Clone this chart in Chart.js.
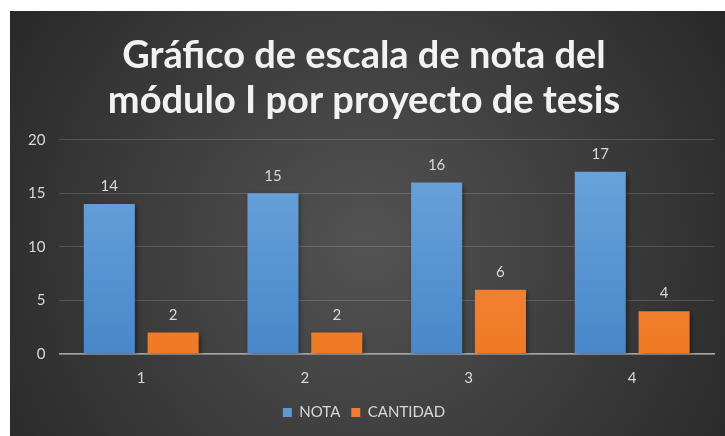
<!DOCTYPE html>
<html>
<head>
<meta charset="utf-8">
<script src="https://cdn.jsdelivr.net/npm/chart.js@4.4.0/dist/chart.umd.min.js"></script>
<style>
html, body { margin: 0; padding: 0; background: #fff; }
#wrap { position: absolute; left: 10px; top: 11px; width: 715px; height: 425px; }
</style>
</head>
<body>
<div id="wrap"><canvas id="chart"></canvas></div>
<script>
const categories = ['1', '2', '3', '4'];
const notaValues = [14, 15, 16, 17];
const cantidadValues = [2, 2, 6, 4];
const yTicks = [0, 5, 10, 15, 20];
const titleLines = ['Gráfico de escala de nota del', 'módulo I por proyecto de tesis'];

const FONT = 'Lato, "Open Sans", sans-serif';
const textColor = '#d9d9d9';

function barGradient(top, bottom) {
    return function (context) {
        const area = context.chart.chartArea;
        if (!area) return bottom;
        const g = context.chart.ctx.createLinearGradient(0, area.top, 0, area.bottom);
        g.addColorStop(0, top);
        g.addColorStop(1, bottom);
        return g;
    };
}

const bgPlugin = {
    id: 'bg',
    beforeDraw(chart) {
        const { ctx, width, height } = chart;
        const g = ctx.createRadialGradient(width * 0.5, height * 0.55, 10, width * 0.5, height * 0.55, width * 0.62);
        g.addColorStop(0, '#525252');
        g.addColorStop(1, '#272727');
        ctx.save();
        ctx.fillStyle = g;
        ctx.fillRect(0, 0, width, height);
        ctx.restore();
    }
};

const shadowPlugin = {
    id: 'barShadow',
    beforeDatasetsDraw(chart) {
        const ctx = chart.ctx;
        ctx.save();
        ctx.shadowColor = 'rgba(0,0,0,0.45)';
        ctx.shadowBlur = 5;
        ctx.shadowOffsetX = 2;
        ctx.shadowOffsetY = 2;
    },
    afterDatasetsDraw(chart) {
        chart.ctx.restore();
    }
};

const labelPlugin = {
    id: 'valueLabels',
    afterDatasetsDraw(chart) {
        const ctx = chart.ctx;
        ctx.save();
        ctx.fillStyle = textColor;
        ctx.font = '15px ' + FONT;
        ctx.textAlign = 'center';
        ctx.textBaseline = 'bottom';
        chart.data.datasets.forEach((ds, i) => {
            chart.getDatasetMeta(i).data.forEach((bar, j) => {
                ctx.fillText(ds.data[j], bar.x, bar.y - 10);
            });
        });
        ctx.restore();
    }
};

new Chart(document.getElementById('chart').getContext('2d'), {
    type: 'bar',
    data: {
        labels: categories,
        datasets: [
            { label: 'NOTA', data: notaValues, backgroundColor: barGradient('#6fa7de', '#4887c9'), legendColor: '#5b9bd5' },
            { label: 'CANTIDAD', data: cantidadValues, backgroundColor: barGradient('#f28f52', '#f07a24'), legendColor: '#ed7d31' }
        ]
    },
    options: {
        responsive: true,
        maintainAspectRatio: false,
        animation: false,
        layout: { padding: { left: 4, right: 11, bottom: 6 } },
        datasets: { bar: { categoryPercentage: 0.78, barPercentage: 0.8 } },
        plugins: {
            title: {
                display: true,
                text: titleLines,
                color: '#f2f2f2',
                font: { family: FONT, size: 38, weight: 'bold', lineHeight: 1.18 },
                padding: { top: 22, bottom: 17 }
            },
            legend: {
                position: 'bottom',
                labels: {
                    color: textColor,
                    font: { family: FONT, size: 15 },
                    boxWidth: 9,
                    boxHeight: 9,
                    padding: 11,
                    generateLabels(chart) {
                        return chart.data.datasets.map((ds, i) => ({
                            text: ds.label,
                            fillStyle: ds.legendColor,
                            strokeStyle: ds.legendColor,
                            lineWidth: 0,
                            fontColor: textColor,
                            datasetIndex: i
                        }));
                    }
                }
            },
            tooltip: { enabled: false }
        },
        scales: {
            x: {
                grid: { display: false },
                border: { display: true, color: '#a6a6a6', width: 1.5 },
                ticks: { color: textColor, font: { family: FONT, size: 15 }, padding: 7 }
            },
            y: {
                min: 0,
                max: 20,
                afterBuildTicks(scale) { scale.ticks = yTicks.map(v => ({ value: v })); },
                ticks: { color: textColor, font: { family: FONT, size: 15 }, padding: 14 },
                grid: { color: 'rgba(255,255,255,0.16)', drawTicks: false, lineWidth: 1 },
                border: { display: false }
            }
        }
    },
    plugins: [bgPlugin, shadowPlugin, labelPlugin]
});
</script>
</body>
</html>
